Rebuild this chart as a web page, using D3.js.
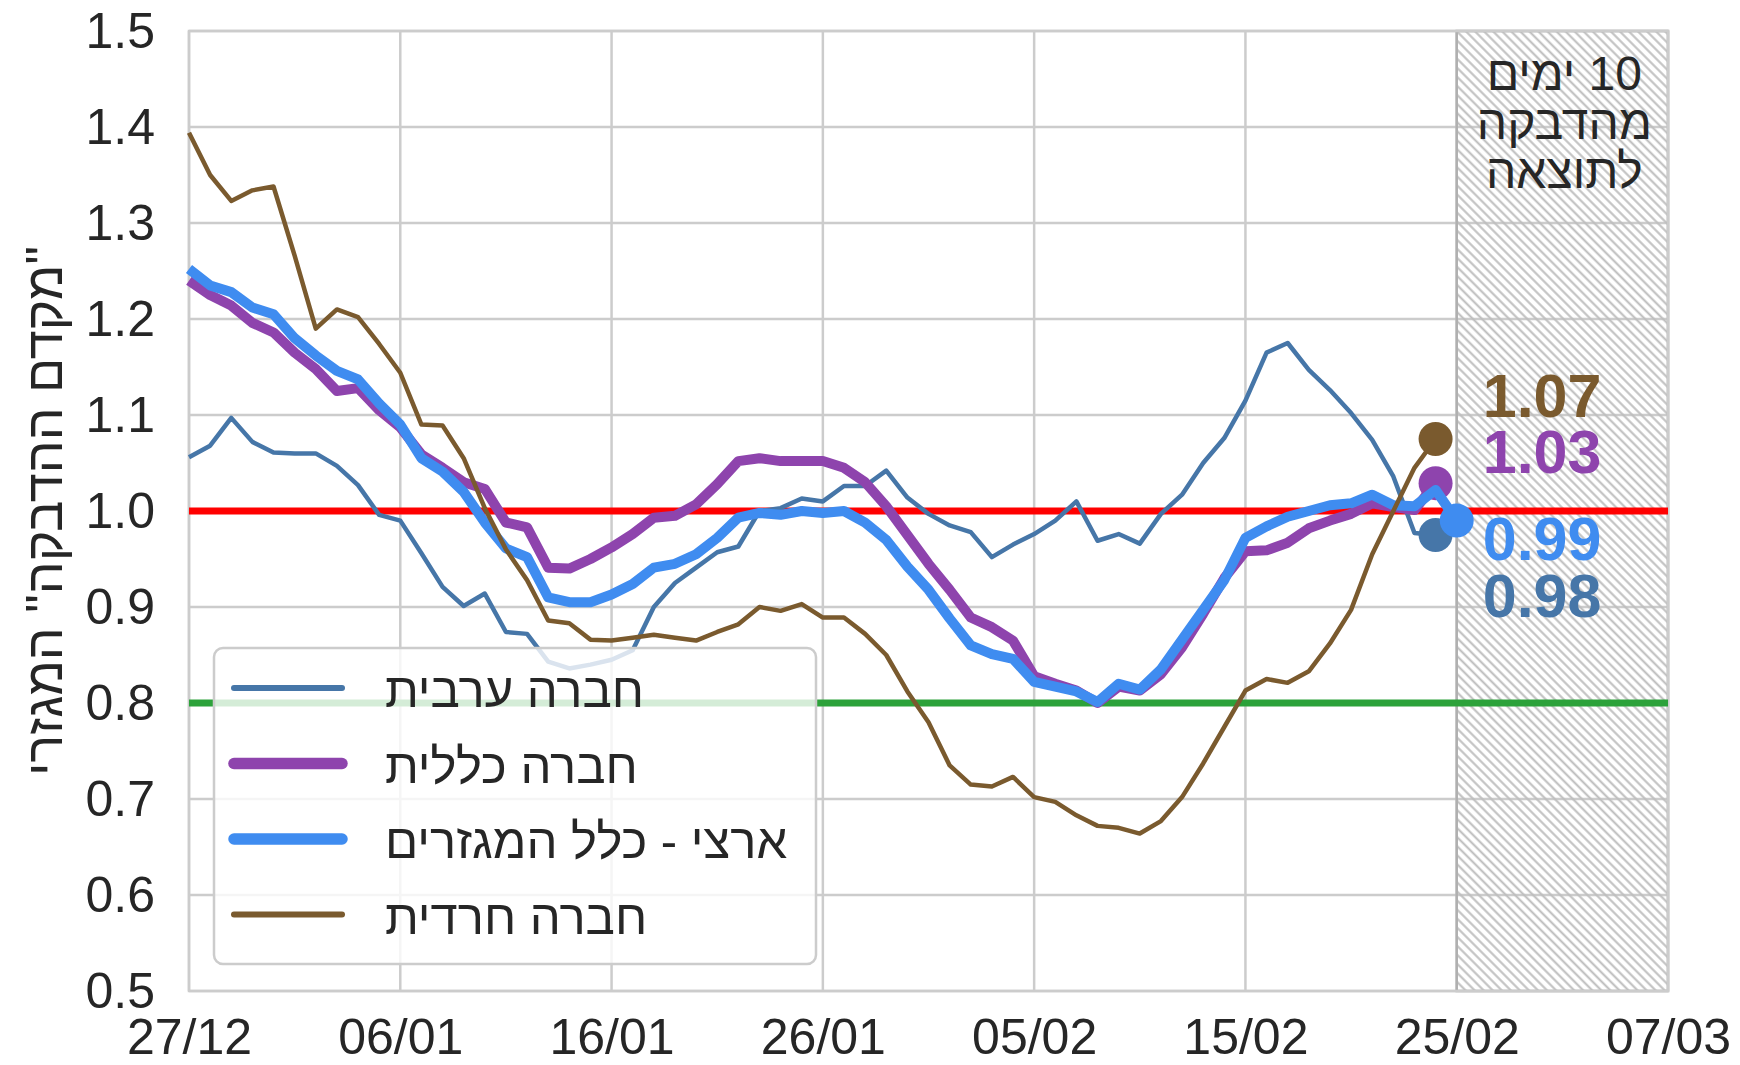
<!DOCTYPE html>
<html>
<head>
<meta charset="utf-8">
<script src="https://cdn.jsdelivr.net/npm/d3@7"></script>
<style>
  body { margin: 0; background: #fff; }
  svg text { font-family: "Liberation Sans", Arial, "DejaVu Sans", sans-serif; fill: #262626; }
</style>
</head>
<body>
<div id="app"></div>
<script>
const d3 = window.d3;

// Daily values, first value is 27/12/2020
const startDate = "2020-12-27";

const arabValues = [
  1.056, 1.068, 1.097, 1.072, 1.061, 1.060, 1.060, 1.047, 1.027, 0.996,
  0.990, 0.956, 0.921, 0.901, 0.914, 0.874, 0.872, 0.843, 0.836, 0.840,
  0.845, 0.855, 0.900, 0.925, 0.941, 0.957, 0.963, 1.000, 1.003, 1.013,
  1.010, 1.026, 1.026, 1.042, 1.014, 0.997, 0.985, 0.978, 0.952, 0.965,
  0.976, 0.990, 1.010, 0.969, 0.976, 0.966, 0.997, 1.017, 1.050, 1.076,
  1.115, 1.165, 1.175, 1.147, 1.126, 1.102, 1.074, 1.036, 0.977, 0.975
];
const generalValues = [
  1.240, 1.225, 1.214, 1.196, 1.186, 1.165, 1.148, 1.125, 1.128, 1.105,
  1.087, 1.059, 1.045, 1.030, 1.023, 0.988, 0.983, 0.941, 0.940, 0.950,
  0.962, 0.976, 0.993, 0.995, 1.007, 1.028, 1.052, 1.055, 1.052, 1.052,
  1.052, 1.045, 1.030, 1.005, 0.975, 0.945, 0.918, 0.889, 0.879, 0.865,
  0.828, 0.820, 0.813, 0.800, 0.817, 0.813, 0.830, 0.858, 0.893, 0.930,
  0.958, 0.959, 0.967, 0.982, 0.990, 0.997, 1.008, 1.004, 1.001, 1.029
];
const nationalValues = [
  1.252, 1.235, 1.228, 1.212, 1.205, 1.180, 1.162, 1.146, 1.137, 1.112,
  1.090, 1.055, 1.041, 1.020, 0.988, 0.961, 0.952, 0.910, 0.905, 0.905,
  0.913, 0.924, 0.941, 0.945, 0.955, 0.972, 0.993, 0.998, 0.996, 1.000,
  0.998, 1.000, 0.988, 0.970, 0.942, 0.918, 0.888, 0.860, 0.851, 0.846,
  0.822, 0.817, 0.812, 0.801, 0.820, 0.814, 0.835, 0.866, 0.897, 0.928,
  0.972, 0.984, 0.994, 1.000, 1.006, 1.008, 1.017, 1.006, 1.005, 1.022,
  0.990
];
const harediValues = [
  1.394, 1.350, 1.323, 1.334, 1.338, 1.266, 1.190, 1.210, 1.202, 1.174,
  1.144, 1.090, 1.089, 1.055, 1.003, 0.960, 0.928, 0.886, 0.883, 0.866,
  0.865, 0.868, 0.871, 0.868, 0.865, 0.874, 0.882, 0.900, 0.896, 0.903,
  0.889, 0.889, 0.872, 0.850, 0.812, 0.780, 0.735, 0.715, 0.713, 0.723,
  0.702, 0.697, 0.683, 0.672, 0.670, 0.664, 0.677, 0.702, 0.737, 0.775,
  0.813, 0.825, 0.821, 0.833, 0.862, 0.897, 0.955, 1.000, 1.045, 1.075
];

const seriesNames = ["חברה ערבית", "חברה כללית", "ארצי - כלל המגזרים", "חברה חרדית"];
const endLabels = ["0.98", "1.03", "0.99", "1.07"];

const xTicks = ["2020-12-27", "2021-01-06", "2021-01-16", "2021-01-26",
  "2021-02-05", "2021-02-15", "2021-02-25", "2021-03-07"];
const yTicks = [0.5, 0.6, 0.7, 0.8, 0.9, 1.0, 1.1, 1.2, 1.3, 1.4, 1.5];
const refLines = [1.0, 0.8];
const forecastSpan = ["2021-02-25", "2021-03-07"];
const forecastNote = ["10 ימים", "מהדבקה", "לתוצאה"];
const yTitle = "\"מקדם ההדבקה\" המגזרי";

// styles
const width = 1740, height = 1065;
const margin = { top: 31, right: 72, bottom: 74, left: 189 };
const colors = ["#4676a8", "#8e44ad", "#3f8cf0", "#7a5a2e"];
const lineWidths = [4.5, 10, 10, 4.5];
const refColors = ["#ff0000", "#2ca23a"];
const labelDy = [87, -9, 39, -27];
const gridColor = "#cccccc";

const parse = d3.utcParse("%Y-%m-%d");
const start = parse(startDate);
const allValues = [arabValues, generalValues, nationalValues, harediValues];
const series = allValues.map((vals, i) => ({
  name: seriesNames[i],
  label: endLabels[i],
  color: colors[i],
  width: lineWidths[i],
  points: vals.map((v, k) => ({ date: d3.utcDay.offset(start, k), value: v }))
}));

const x = d3.scaleUtc()
  .domain([parse(xTicks[0]), parse(xTicks[xTicks.length - 1])])
  .range([margin.left, width - margin.right]);
const y = d3.scaleLinear()
  .domain([0.5, 1.5])
  .range([height - margin.bottom, margin.top]);

const svg = d3.select("#app").append("svg")
  .attr("width", width).attr("height", height);

const defs = svg.append("defs");
defs.append("pattern")
  .attr("id", "hatch")
  .attr("patternUnits", "userSpaceOnUse")
  .attr("width", 6.4).attr("height", 6.4)
  .attr("patternTransform", "rotate(-45)")
  .append("line")
  .attr("x1", 3.2).attr("x2", 3.2).attr("y1", -1).attr("y2", 8)
  .attr("stroke", "#bdbdbd").attr("stroke-width", 2);

// grid
const grid = svg.append("g").attr("class", "grid")
  .attr("stroke", gridColor).attr("stroke-width", 2.5);
grid.selectAll(".gy").data(yTicks).join("line")
  .attr("x1", margin.left).attr("x2", width - margin.right)
  .attr("y1", d => y(d)).attr("y2", d => y(d));
grid.selectAll(".gx").data(xTicks).join("line")
  .attr("x1", d => x(parse(d))).attr("x2", d => x(parse(d)))
  .attr("y1", margin.top).attr("y2", height - margin.bottom);

// forecast hatch
const fx0 = x(parse(forecastSpan[0])), fx1 = x(parse(forecastSpan[1]));
svg.append("rect")
  .attr("x", fx0).attr("y", margin.top)
  .attr("width", fx1 - fx0).attr("height", height - margin.bottom - margin.top)
  .attr("fill", "url(#hatch)")
  .attr("stroke", "#b0b0b0").attr("stroke-width", 2.5);

// frame
svg.append("rect")
  .attr("x", margin.left).attr("y", margin.top)
  .attr("width", width - margin.left - margin.right)
  .attr("height", height - margin.top - margin.bottom)
  .attr("fill", "none").attr("stroke", gridColor).attr("stroke-width", 2.5);

// axes
const yAxis = svg.append("g")
  .attr("transform", `translate(${margin.left},0)`)
  .call(d3.axisLeft(y).tickValues(yTicks).tickFormat(d3.format(".1f")).tickSize(0).tickPadding(34));
const xAxis = svg.append("g")
  .attr("transform", `translate(0,${height - margin.bottom})`)
  .call(d3.axisBottom(x).tickValues(xTicks.map(parse)).tickFormat(d3.utcFormat("%d/%m")).tickSize(0).tickPadding(27));
[yAxis, xAxis].forEach(a => {
  a.select(".domain").remove();
  a.attr("font-family", null).attr("font-size", null);
  a.selectAll("text").style("font-size", "50px").attr("fill", "#262626");
});

svg.append("text")
  .attr("transform", `translate(44,${y(1.0)}) rotate(-90)`)
  .attr("direction", "rtl")
  .attr("text-anchor", "middle")
  .attr("dy", "0.35em")
  .style("font-size", "52px")
  .text(yTitle);

// reference lines
svg.append("g").selectAll("line").data(refLines).join("line")
  .attr("x1", margin.left).attr("x2", width - margin.right)
  .attr("y1", d => y(d)).attr("y2", d => y(d))
  .attr("stroke", (d, i) => refColors[i]).attr("stroke-width", 7);

// series
const line = d3.line().x(d => x(d.date)).y(d => y(d.value));
const sg = svg.append("g").selectAll("g").data(series).join("g");
sg.append("path")
  .attr("d", d => line(d.points))
  .attr("fill", "none")
  .attr("stroke", d => d.color)
  .attr("stroke-width", d => d.width)
  .attr("stroke-linejoin", "round");
sg.append("circle")
  .attr("cx", d => x(d.points[d.points.length - 1].date))
  .attr("cy", d => y(d.points[d.points.length - 1].value))
  .attr("r", 17)
  .attr("fill", d => d.color);

// end labels
svg.append("g").selectAll("text").data(series).join("text")
  .attr("x", fx0 + 26)
  .attr("y", d => y(+d.label) + labelDy[series.indexOf(d)])
  .style("fill", d => d.color)
  .style("font-size", "61px")
  .style("font-weight", "bold")
  .text(d => d.label);

// forecast note
svg.append("g").selectAll("text").data(forecastNote).join("text")
  .attr("x", (fx0 + fx1) / 2 + 2)
  .attr("y", (d, i) => margin.top + 59 + i * 49)
  .attr("direction", "rtl")
  .attr("text-anchor", "middle")
  .style("font-size", "48px")
  .text(d => d);

// legend
const legend = svg.append("g").attr("transform", "translate(214,648)");
legend.append("rect")
  .attr("width", 602).attr("height", 316).attr("rx", 9)
  .attr("fill", "#fff").attr("fill-opacity", 0.8)
  .attr("stroke", "#cccccc").attr("stroke-width", 2.5);
const rows = legend.selectAll("g").data(series).join("g")
  .attr("transform", (d, i) => `translate(0,${40 + i * 75.5})`);
rows.append("line")
  .attr("x1", 20).attr("x2", 128)
  .attr("stroke", d => d.color)
  .attr("stroke-width", d => d.width + 1.5)
  .attr("stroke-linecap", "round");
rows.append("text")
  .attr("x", 171).attr("y", 19)
  .style("font-size", "49px")
  .text(d => d.name);
</script>
</body>
</html>
